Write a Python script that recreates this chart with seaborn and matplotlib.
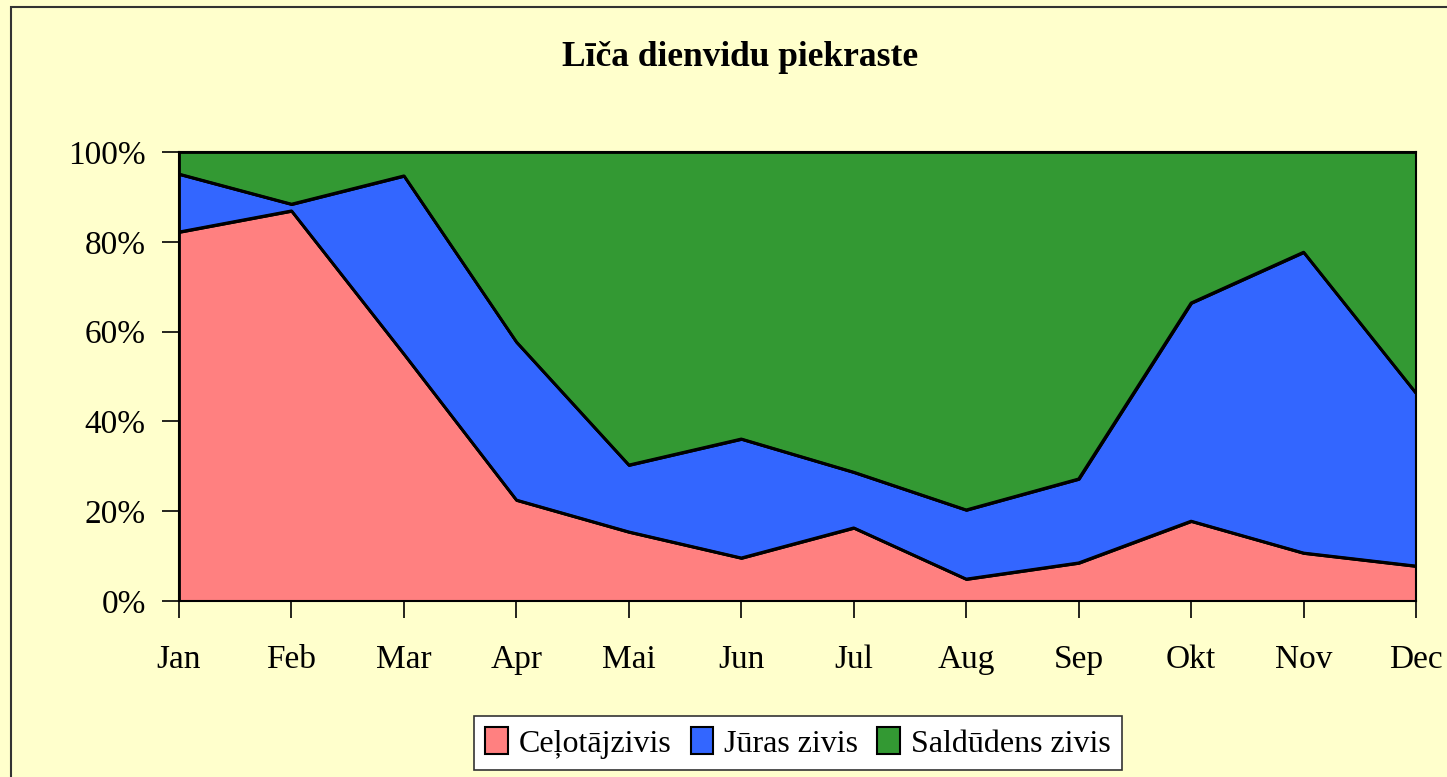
import numpy as np
import pandas as pd
import seaborn as sns
import matplotlib.pyplot as plt
from matplotlib.patches import Rectangle
from matplotlib.ticker import PercentFormatter

months = ['Jan', 'Feb', 'Mar', 'Apr', 'Mai', 'Jun', 'Jul', 'Aug', 'Sep', 'Okt', 'Nov', 'Dec']
celotajzivis = [82.2, 86.9, 55.0, 22.5, 15.4, 9.6, 16.3, 4.9, 8.5, 17.8, 10.7, 7.8]
juras_zivis = [12.9, 1.5, 39.7, 35.2, 14.9, 26.5, 12.4, 15.4, 18.7, 48.6, 67.0, 38.5]
saldudens_zivis = [4.9, 11.6, 5.3, 42.3, 69.7, 63.9, 71.3, 79.7, 72.8, 33.6, 22.3, 53.7]
series_names = ['Ceļotājzivis', 'Jūras zivis', 'Saldūdens zivis']
colors = ['#FF8080', '#3366FF', '#339933']

df = pd.DataFrame({'month': months,
                   series_names[0]: celotajzivis,
                   series_names[1]: juras_zivis,
                   series_names[2]: saldudens_zivis})

sns.set_style('white', {'xtick.bottom': True, 'ytick.left': True,
                        'text.color': 'black', 'xtick.color': 'black',
                        'ytick.color': 'black', 'axes.labelcolor': 'black'})
plt.rcParams['font.family'] = ['Liberation Serif', 'DejaVu Serif']
bg = '#FFFFCC'

fig = plt.figure(figsize=(14.47, 7.77), dpi=100, facecolor=bg)
ax = fig.add_axes([179 / 1447, 176 / 777, (1416 - 179) / 1447, (601 - 152) / 777])
ax.set_facecolor(bg)

x = np.arange(len(months))
vals = df[series_names].to_numpy().T
vals = vals / vals.sum(axis=0) * 100
polys = ax.stackplot(x, vals, colors=colors, labels=series_names,
                     edgecolor='black', linewidth=2)

# boundary lines between the stacked layers
cum = np.cumsum(vals, axis=0)
for row in cum[:-1]:
    sns.lineplot(x=x, y=row, ax=ax, color='black', linewidth=2, legend=False)

ax.set_xlim(0, len(months) - 1)
ax.set_ylim(0, 100)
ax.set_xticks(x)
ax.set_xticklabels(months)
ax.set_yticks(np.arange(0, 101, 20))
ax.yaxis.set_major_formatter(PercentFormatter(decimals=0))
ax.tick_params(axis='both', labelsize=24, length=12, width=1.2, color='black',
               labelcolor='black', direction='out')
ax.tick_params(axis='x', pad=19)
ax.tick_params(axis='y', pad=12)
ax.set_xlabel('')
ax.set_ylabel('')
for s in ax.spines.values():
    s.set_color('black')
    s.set_linewidth(1.5)

fig.text(740 / 1447, 1 - 57 / 777, 'Līča dienvidu piekraste', ha='center', va='center',
         fontsize=25.5, fontweight='bold', color='black')

leg = fig.legend(handles=polys, labels=series_names, loc='center',
                 bbox_to_anchor=(798 / 1447, 1 - 743 / 777), ncol=3, fontsize=23,
                 frameon=True, fancybox=False, edgecolor='#333333', facecolor='white',
                 handlelength=0.7, handleheight=0.9, handletextpad=0.35,
                 columnspacing=0.6, borderpad=0.35, borderaxespad=0)
leg.get_frame().set_linewidth(1.2)
leg.get_frame().set_alpha(1)
for h in leg.legend_handles:
    h.set_edgecolor('black')
    h.set_linewidth(1.5)

fig.patches.append(Rectangle((11 / 1447, -0.1), 1.2, 1 + 0.1 - 7 / 777,
                             transform=fig.transFigure, fill=False,
                             edgecolor='#333333', linewidth=1.5, zorder=0))

fig.savefig('out.png', dpi=100, facecolor=bg)
